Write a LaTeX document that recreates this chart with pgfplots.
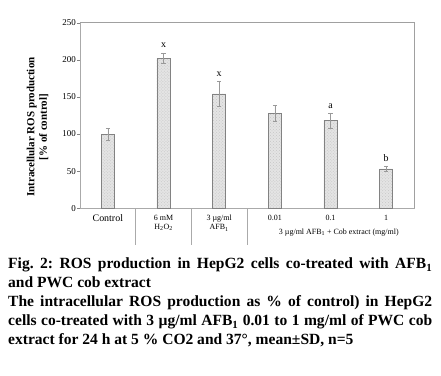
\documentclass[border=0pt]{standalone}
\usepackage{fontspec}
\setmainfont{Liberation Serif}
\usepackage{pgfplots}
\pgfplotsset{compat=1.18}
\usetikzlibrary{patterns}
\definecolor{axgray}{RGB}{170,170,170}
\definecolor{framegray}{RGB}{160,160,160}
\definecolor{bargray}{RGB}{130,130,130}
\definecolor{barfill}{RGB}{228,228,228}
\begin{document}
\frenchspacing
\begin{tikzpicture}
\path[use as bounding box, fill=white] (0,0) rectangle (441bp,-376bp);
\begin{axis}[
  at={(80bp,-208.3bp)}, anchor=south west,
  scale only axis, width=334bp, height=185.6bp,
  xmin=-0.5, xmax=5.5, ymin=0, ymax=250,
  ytick={0,50,100,150,200,250},
  xtick={0,1,2,3,4,5},
  xticklabels={{\raisebox{-4.5bp}{\fontsize{10}{12}\selectfont Control}},
    {6 mM\\H\textsubscript{2}O\textsubscript{2}},
    {3 µg/ml\\AFB\textsubscript{1}},
    {0.01},{0.1},{1}},
  xticklabel style={font=\fontsize{8}{9.5}\selectfont, align=center, anchor=north},
  yticklabel style={font=\fontsize{9}{10}\selectfont, inner sep=1bp},
  /pgf/number format/assume math mode=true,
  tick pos=left,
  x tick style={draw=none},
  y tick style={draw=bargray, line width=0.4pt},
  tick align=outside, major tick length=3bp,
  axis line style={draw=axgray, line width=0.8pt},
  ylabel={Intracellular ROS production\\{[\% of control]}},
  every axis y label/.style={at={(axis description cs:-0.127,0.438)}, rotate=90, anchor=center,
     font=\bfseries\fontsize{11}{12.5}\selectfont, align=center},
  clip=false,
]
\draw[framegray, line width=1pt] (rel axis cs:0,1) -- (rel axis cs:1,1) -- (rel axis cs:1,0);
\addplot[ybar, bar width=13bp, draw=bargray, line width=0.8pt,
  fill=barfill, postaction={pattern=crosshatch dots, pattern color=gray!45},
  error bars/.cd, y dir=both, y explicit,
  error bar style={draw=gray!80, line width=0.5pt},
  error mark options={draw=gray!80, mark size=2bp, rotate=90}]
  coordinates {
  (0,100) +- (0,8)
  (1,202) +- (0,7)
  (2,154) +- (0,17)
  (3,128) +- (0,11)
  (4,118.5) +- (0,10)
  (5,53) +- (0,3.5)
  };
\node[font=\fontsize{10}{12}\selectfont] at (axis cs:1,220) {x};
\node[font=\fontsize{10}{12}\selectfont] at (axis cs:2,181) {x};
\node[font=\fontsize{10}{12}\selectfont] at (axis cs:4,137) {a};
\node[font=\fontsize{10}{12}\selectfont] at (axis cs:5,67) {b};
\draw[axgray, line width=0.6pt] (axis cs:0.5,0) -- ([yshift=-37bp]axis cs:0.5,0);
\draw[axgray, line width=0.6pt] (axis cs:1.5,0) -- ([yshift=-37bp]axis cs:1.5,0);
\draw[axgray, line width=0.6pt] (axis cs:2.5,0) -- ([yshift=-37bp]axis cs:2.5,0);
\node[font=\fontsize{8}{9.5}\selectfont] at (axis cs:4.15,-32.5) {3 µg/ml AFB\textsubscript{1} + Cob extract (mg/ml)};
\end{axis}
\node[anchor=north west, inner sep=0pt, text width=424bp, align=justify,
  font=\bfseries\fontsize{15.6}{19}\selectfont] at (8bp,-258bp)
  {Fig. 2: ROS production in HepG2 cells co-treated with AFB\textsubscript{1}\linebreak
   and PWC cob extract\\
   The intracellular ROS production as \% of control) in HepG2\linebreak
   cells co-treated with 3 µg/ml AFB\textsubscript{1} 0.01 to 1 mg/ml of PWC cob\linebreak
   extract for 24 h at 5 \% CO2 and 37°, mean±SD, n=5};
\end{tikzpicture}
\end{document}
